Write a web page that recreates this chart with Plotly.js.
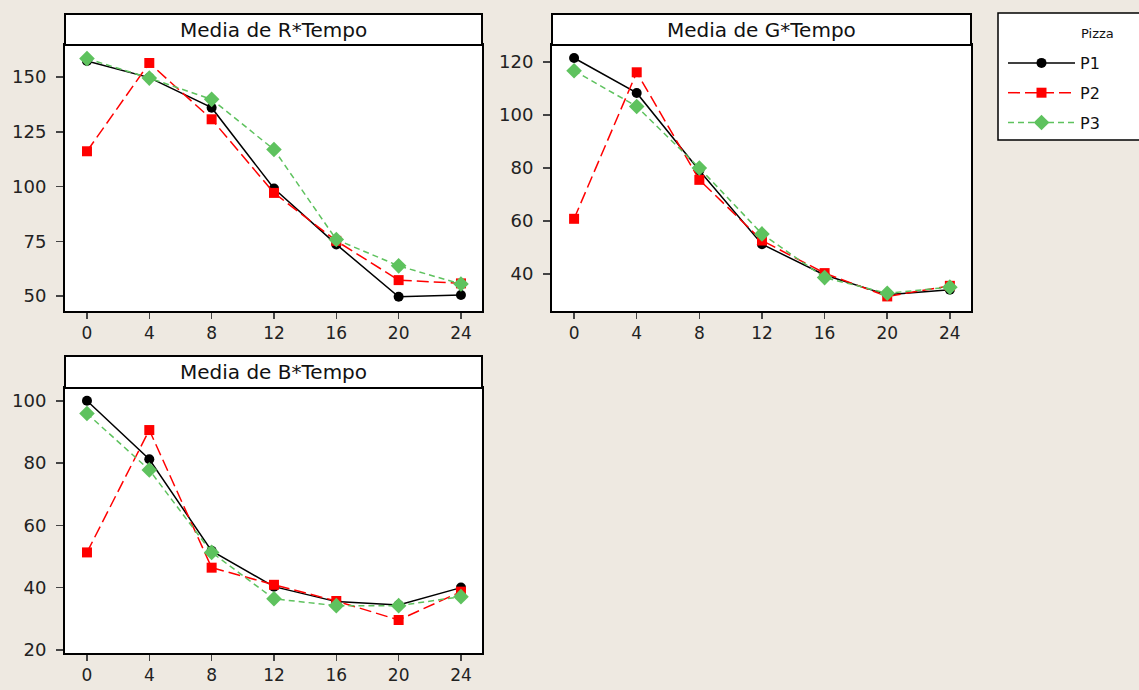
<!DOCTYPE html>
<html>
<head>
<meta charset="utf-8">
<script src="https://cdn.plot.ly/plotly-3.0.1.min.js"></script>
<style>html,body{margin:0;padding:0;background:#EEE9E1;}</style>
</head>
<body>
<div id="chart" style="width:1139px;height:690px;"></div>
<script>
const tempo = [0, 4, 8, 12, 16, 20, 24];
const seriesNames = ['P1', 'P2', 'P3'];
const panelTitles = ['Media de R*Tempo', 'Media de G*Tempo', 'Media de B*Tempo'];

const R_P1 = [157.3, 149.7, 136.0, 99.1, 73.6, 49.7, 50.5];
const R_P2 = [116.1, 156.4, 130.7, 97.1, 75.2, 57.3, 55.8];
const R_P3 = [158.4, 149.5, 139.8, 116.9, 75.8, 63.8, 55.5];

const G_P1 = [121.5, 108.3, 79.0, 51.2, 39.6, 32.1, 34.0];
const G_P2 = [60.8, 116.1, 75.5, 52.6, 40.3, 31.5, 35.5];
const G_P3 = [116.7, 103.2, 80.0, 55.1, 38.6, 32.7, 35.0];

const B_P1 = [100.0, 81.2, 51.8, 40.3, 35.5, 34.4, 40.0];
const B_P2 = [51.3, 90.6, 46.4, 40.9, 35.7, 29.6, 38.7];
const B_P3 = [95.9, 77.8, 51.3, 36.4, 34.2, 34.2, 37.1];

const xTicks = [0, 4, 8, 12, 16, 20, 24];
const rTicks = [50, 75, 100, 125, 150];
const gTicks = [40, 60, 80, 100, 120];
const bTicks = [20, 40, 60, 80, 100];

const W = 1139, H = 690;
const styles = [
  {color: '#000000', dash: 'solid', symbol: 'circle', size: 10},
  {color: '#FF0000', dash: '12px,5px', symbol: 'square', size: 10},
  {color: '#5EC25E', dash: '6px,4px', symbol: 'diamond', size: 12}
];

const panels = [
  {data: [R_P1, R_P2, R_P3], xa: 'x', ya: 'y', ticks: rTicks, yr: [43.2, 164.6],
   px: [65, 482], py: [45, 311], strip: [14, 45]},
  {data: [G_P1, G_P2, G_P3], xa: 'x2', ya: 'y2', ticks: gTicks, yr: [26.0, 126.4],
   px: [552, 971], py: [45, 311], strip: [14, 45]},
  {data: [B_P1, B_P2, B_P3], xa: 'x3', ya: 'y3', ticks: bTicks, yr: [19.0, 104.1],
   px: [65, 482], py: [388, 653], strip: [356, 388]}
];

const traces = [];
panels.forEach((p, pi) => {
  p.data.forEach((vals, si) => {
    const s = styles[si];
    traces.push({
      x: tempo, y: vals, xaxis: p.xa, yaxis: p.ya,
      type: 'scatter', mode: 'lines+markers',
      name: seriesNames[si], legendgroup: seriesNames[si],
      showlegend: pi === 0,
      line: {color: s.color, width: 1.5, dash: s.dash},
      marker: {color: s.color, symbol: s.symbol, size: s.size}
    });
  });
});

const tickFont = {family: 'DejaVu Sans, sans-serif', size: 18, color: '#222'};
const xTickFont = {family: 'DejaVu Sans, sans-serif', size: 17, color: '#222'};
const layout = {
  width: W, height: H,
  margin: {l: 0, r: 0, t: 0, b: 0},
  paper_bgcolor: '#EEE9E1', plot_bgcolor: '#FFFFFF',
  showlegend: true,
  legend: {x: 1003 / W, xanchor: 'left', y: 1 - 46 / H, yanchor: 'top',
           bgcolor: 'rgba(0,0,0,0)', borderwidth: 0, tracegroupgap: 6,
           itemwidth: 67,
           font: {family: 'DejaVu Sans, sans-serif', size: 16, color: '#111'}},
  shapes: [], annotations: []
};

panels.forEach((p, i) => {
  const n = i === 0 ? '' : String(i + 1);
  layout['xaxis' + n] = {
    domain: [p.px[0] / W, p.px[1] / W], anchor: 'y' + n,
    range: [-1.41, 25.35], tickvals: xTicks, ticks: 'outside', ticklen: 6, tickwidth: 1.5,
    ticklabelstandoff: 0,
    showline: true, linecolor: '#000', linewidth: 2, mirror: true,
    showgrid: false, zeroline: false, tickfont: xTickFont, fixedrange: true
  };
  layout['yaxis' + n] = {
    domain: [1 - p.py[1] / H, 1 - p.py[0] / H], anchor: 'x' + n,
    range: p.yr, tickvals: p.ticks, ticks: 'outside', ticklen: 7, tickwidth: 1.5,
    ticklabelstandoff: 6,
    showline: true, linecolor: '#000', linewidth: 2, mirror: true,
    showgrid: false, zeroline: false, tickfont: tickFont, fixedrange: true
  };
  layout.shapes.push({
    type: 'rect', xref: 'paper', yref: 'paper',
    x0: p.px[0] / W, x1: p.px[1] / W, y0: 1 - p.strip[1] / H, y1: 1 - p.strip[0] / H,
    fillcolor: '#FFFFFF', line: {color: '#000', width: 2}
  });
  layout.annotations.push({
    xref: 'paper', yref: 'paper', showarrow: false,
    x: (p.px[0] + p.px[1]) / 2 / W, y: 1 - (p.strip[0] + p.strip[1]) / 2 / H,
    xanchor: 'center', yanchor: 'middle', text: panelTitles[i],
    font: {family: 'DejaVu Sans, sans-serif', size: 20, color: '#111'}
  });
});

layout.shapes.push({
  type: 'rect', xref: 'paper', yref: 'paper',
  x0: 998 / W, x1: 1150 / W, y0: 1 - 140 / H, y1: 1 - 13 / H,
  fillcolor: '#FFFFFF', line: {color: '#000', width: 1.5}, layer: 'below'
});
layout.annotations.push({
  xref: 'paper', yref: 'paper', showarrow: false,
  x: 1079 / W, y: 1 - 34 / H, xanchor: 'left', yanchor: 'middle',
  text: 'Pizza', font: {family: 'DejaVu Sans, sans-serif', size: 13, color: '#111'}
});

Plotly.newPlot('chart', traces, layout, {displayModeBar: false, staticPlot: true});
</script>
</body>
</html>
